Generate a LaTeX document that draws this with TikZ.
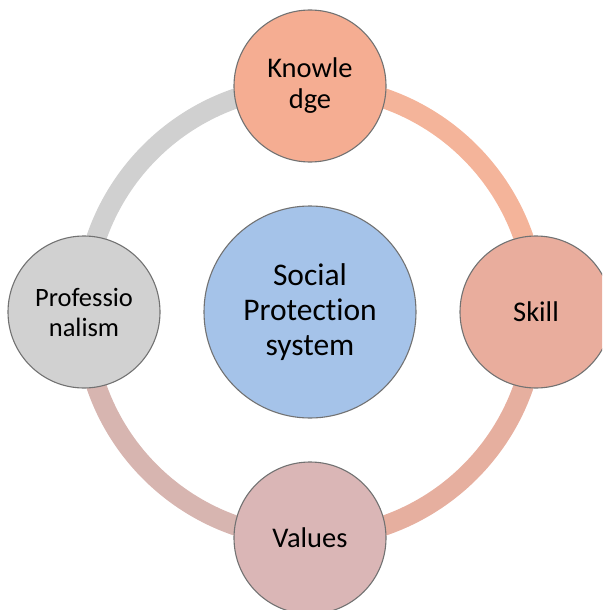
\documentclass[tikz,border=0pt]{standalone}
\usepackage{fontspec}
\setmainfont[Ligatures=NoCommon]{Carlito}
\usetikzlibrary{backgrounds}

\definecolor{knowFill}{HTML}{F5AD92}
\definecolor{skillFill}{HTML}{E9AD9D}
\definecolor{valFill}{HTML}{DAB6B6}
\definecolor{profFill}{HTML}{D1D1D1}
\definecolor{coreFill}{HTML}{A5C3E9}
\definecolor{edgeGray}{HTML}{727272}
\definecolor{arcKS}{HTML}{F4B49A}
\definecolor{arcSV}{HTML}{E6AF9F}
\definecolor{arcVP}{HTML}{D7B5B0}
\definecolor{arcPK}{HTML}{D0D0D0}

\tikzset{
  bubble/.style={circle, draw=edgeGray, line width=1.1pt, minimum size=152pt,
    inner sep=0pt, align=center, font=\fontsize{28.5}{31}\selectfont},
  core/.style={circle, draw=edgeGray, line width=1.1pt, fill=coreFill,
    minimum size=212pt, inner sep=0pt, align=center,
    font=\fontsize{31.5}{35}\selectfont},
  ring/.style={line width=20pt, bend left=45}
}

\begin{document}
\begin{tikzpicture}[x=1pt, y=-1pt]
  \useasboundingbox (0,0) rectangle (602,610);
  \clip (0,0) rectangle (602,610);

  % central hub
  \node[core] (hub) at (310,312) {Social\\Protection\\system};

  % four satellites on a ring of radius 226 around the hub
  \node[bubble, fill=knowFill] (know) at (310,86)  {Knowle\\dge};
  \node[bubble, fill=skillFill] (skill) at (536,312) {Skill};
  \node[bubble, fill=valFill] (val) at (310,538) {Values};
  \node[bubble, fill=profFill, font=\fontsize{26.5}{30}\selectfont] (prof) at (84,312) {Professio\\nalism};

  % ring segments behind the satellites
  \begin{pgfonlayer}{background}
    \draw[ring, arcKS] (know.center) to (skill.center);
    \draw[ring, arcSV] (skill.center) to (val.center);
    \draw[ring, arcVP] (val.center) to (prof.center);
    \draw[ring, arcPK] (prof.center) to (know.center);
  \end{pgfonlayer}
\end{tikzpicture}
\end{document}
